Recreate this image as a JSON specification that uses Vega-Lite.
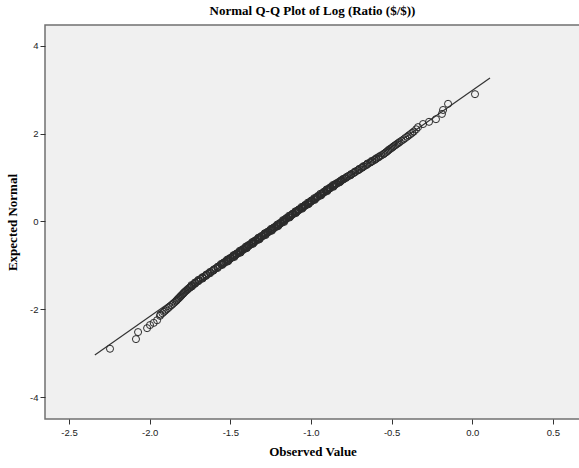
{
  "$schema": "https://vega.github.io/schema/vega-lite/v6.json",
  "autosize": {"type": "none"},
  "padding": {"left": 45, "top": 25, "right": 0, "bottom": 49},
  "width": 535,
  "height": 394,
  "background": "white",
  "title": {"text": "Normal Q-Q Plot of Log (Ratio ($/$))", "font": "Liberation Serif", "fontSize": 13, "fontWeight": "bold", "color": "#000", "anchor": "middle", "frame": "group", "offset": 7},
  "config": {"view": {"fill": "#f0f0f0", "stroke": "#707070", "strokeWidth": 1.5}},
  "datasets": {
    "pts": [
      {"o": -2.246, "e": -2.90}, {"o": -2.085, "e": -2.68}, {"o": -2.072, "e": -2.52}, {"o": -2.016, "e": -2.43}, {"o": -1.998, "e": -2.36}, {"o": -1.975, "e": -2.31}, {"o": -1.954, "e": -2.25}, {"o": -1.936, "e": -2.15},
      {"o": -1.921, "e": -2.09}, {"o": -1.903, "e": -2.03}, {"o": -1.884, "e": -1.97}, {"o": -1.866, "e": -1.91}, {"o": -1.848, "e": -1.85},
      {"o": -1.933, "e": -2.12}, {"o": -1.912, "e": -2.06}, {"o": -1.894, "e": -2.00}, {"o": -1.876, "e": -1.94}, {"o": -1.857, "e": -1.88}, {"o": -1.839, "e": -1.82}, {"o": -1.829, "e": -1.78}, {"o": -1.818, "e": -1.74}, {"o": -1.808, "e": -1.70}, {"o": -1.797, "e": -1.66}, {"o": -1.787, "e": -1.62}, {"o": -1.775, "e": -1.58}, {"o": -1.763, "e": -1.54}, {"o": -1.751, "e": -1.505},
      {"o": -1.833, "e": -1.80}, {"o": -1.823, "e": -1.76}, {"o": -1.812, "e": -1.72}, {"o": -1.802, "e": -1.68}, {"o": -1.791, "e": -1.64}, {"o": -1.781, "e": -1.60}, {"o": -1.768, "e": -1.56}, {"o": -1.756, "e": -1.52},
      {"o": -1.746, "e": -1.49}, {"o": -1.736, "e": -1.46}, {"o": -1.727, "e": -1.43}, {"o": -1.716, "e": -1.40}, {"o": -1.706, "e": -1.37}, {"o": -1.695, "e": -1.34}, {"o": -1.683, "e": -1.31}, {"o": -1.672, "e": -1.28}, {"o": -1.660, "e": -1.25}, {"o": -1.648, "e": -1.22}, {"o": -1.637, "e": -1.19}, {"o": -1.625, "e": -1.16}, {"o": -1.613, "e": -1.13}, {"o": -1.602, "e": -1.10}, {"o": -1.590, "e": -1.07}, {"o": -1.578, "e": -1.04}, {"o": -1.566, "e": -1.01},
      {"o": -1.738, "e": -1.48}, {"o": -1.741, "e": -1.45}, {"o": -1.719, "e": -1.42}, {"o": -1.719, "e": -1.39}, {"o": -1.698, "e": -1.36}, {"o": -1.698, "e": -1.33}, {"o": -1.672, "e": -1.30}, {"o": -1.673, "e": -1.27}, {"o": -1.651, "e": -1.24}, {"o": -1.649, "e": -1.21}, {"o": -1.626, "e": -1.18}, {"o": -1.626, "e": -1.15}, {"o": -1.605, "e": -1.12}, {"o": -1.601, "e": -1.09}, {"o": -1.579, "e": -1.06}, {"o": -1.578, "e": -1.03},
      {"o": -1.552, "e": -0.98}, {"o": -1.550, "e": -0.96}, {"o": -1.539, "e": -0.94}, {"o": -1.527, "e": -0.92}, {"o": -1.525, "e": -0.90}, {"o": -1.513, "e": -0.88}, {"o": -1.512, "e": -0.86}, {"o": -1.500, "e": -0.84}, {"o": -1.488, "e": -0.82}, {"o": -1.486, "e": -0.80},
      {"o": -1.475, "e": -0.78}, {"o": -1.473, "e": -0.76}, {"o": -1.461, "e": -0.74}, {"o": -1.449, "e": -0.72}, {"o": -1.448, "e": -0.70}, {"o": -1.436, "e": -0.68}, {"o": -1.434, "e": -0.66}, {"o": -1.422, "e": -0.64}, {"o": -1.411, "e": -0.62}, {"o": -1.409, "e": -0.60},
      {"o": -1.397, "e": -0.58}, {"o": -1.395, "e": -0.56}, {"o": -1.384, "e": -0.54}, {"o": -1.372, "e": -0.52}, {"o": -1.370, "e": -0.50}, {"o": -1.358, "e": -0.48}, {"o": -1.356, "e": -0.46}, {"o": -1.345, "e": -0.44}, {"o": -1.333, "e": -0.42}, {"o": -1.331, "e": -0.40},
      {"o": -1.319, "e": -0.38}, {"o": -1.318, "e": -0.36}, {"o": -1.306, "e": -0.34}, {"o": -1.294, "e": -0.32}, {"o": -1.292, "e": -0.30}, {"o": -1.281, "e": -0.28}, {"o": -1.279, "e": -0.26}, {"o": -1.267, "e": -0.24}, {"o": -1.255, "e": -0.22}, {"o": -1.254, "e": -0.20},
      {"o": -1.242, "e": -0.18}, {"o": -1.240, "e": -0.16}, {"o": -1.228, "e": -0.14}, {"o": -1.217, "e": -0.12}, {"o": -1.215, "e": -0.10}, {"o": -1.203, "e": -0.08}, {"o": -1.201, "e": -0.06}, {"o": -1.190, "e": -0.04}, {"o": -1.178, "e": -0.02}, {"o": -1.176, "e": 0.00},
      {"o": -1.550, "e": -0.99}, {"o": -1.558, "e": -0.97}, {"o": -1.539, "e": -0.95}, {"o": -1.539, "e": -0.93}, {"o": -1.515, "e": -0.91}, {"o": -1.511, "e": -0.89}, {"o": -1.520, "e": -0.87}, {"o": -1.500, "e": -0.85}, {"o": -1.500, "e": -0.83}, {"o": -1.476, "e": -0.81},
      {"o": -1.473, "e": -0.79}, {"o": -1.481, "e": -0.77}, {"o": -1.461, "e": -0.75}, {"o": -1.461, "e": -0.73}, {"o": -1.437, "e": -0.71}, {"o": -1.434, "e": -0.69}, {"o": -1.442, "e": -0.67}, {"o": -1.422, "e": -0.65}, {"o": -1.422, "e": -0.63}, {"o": -1.399, "e": -0.61},
      {"o": -1.395, "e": -0.59}, {"o": -1.403, "e": -0.57}, {"o": -1.383, "e": -0.55}, {"o": -1.384, "e": -0.53}, {"o": -1.360, "e": -0.51}, {"o": -1.356, "e": -0.49}, {"o": -1.364, "e": -0.47}, {"o": -1.345, "e": -0.45}, {"o": -1.345, "e": -0.43}, {"o": -1.321, "e": -0.41},
      {"o": -1.317, "e": -0.39}, {"o": -1.326, "e": -0.37}, {"o": -1.306, "e": -0.35}, {"o": -1.306, "e": -0.33}, {"o": -1.282, "e": -0.31}, {"o": -1.279, "e": -0.29}, {"o": -1.287, "e": -0.27}, {"o": -1.267, "e": -0.25}, {"o": -1.267, "e": -0.23}, {"o": -1.243, "e": -0.21},
      {"o": -1.240, "e": -0.19}, {"o": -1.248, "e": -0.17}, {"o": -1.228, "e": -0.15}, {"o": -1.228, "e": -0.13}, {"o": -1.205, "e": -0.11}, {"o": -1.201, "e": -0.09}, {"o": -1.209, "e": -0.07}, {"o": -1.189, "e": -0.05}, {"o": -1.190, "e": -0.03}, {"o": -1.166, "e": -0.01},
      {"o": -1.166, "e": 0.02}, {"o": -1.164, "e": 0.04}, {"o": -1.153, "e": 0.06}, {"o": -1.151, "e": 0.08}, {"o": -1.139, "e": 0.10}, {"o": -1.127, "e": 0.12}, {"o": -1.126, "e": 0.14}, {"o": -1.114, "e": 0.16}, {"o": -1.112, "e": 0.18}, {"o": -1.100, "e": 0.20},
      {"o": -1.089, "e": 0.22}, {"o": -1.087, "e": 0.24}, {"o": -1.075, "e": 0.26}, {"o": -1.073, "e": 0.28}, {"o": -1.062, "e": 0.30}, {"o": -1.050, "e": 0.32}, {"o": -1.048, "e": 0.34}, {"o": -1.036, "e": 0.36}, {"o": -1.035, "e": 0.38}, {"o": -1.023, "e": 0.40},
      {"o": -1.011, "e": 0.42}, {"o": -1.009, "e": 0.44}, {"o": -0.998, "e": 0.46}, {"o": -0.996, "e": 0.48}, {"o": -0.984, "e": 0.50}, {"o": -0.972, "e": 0.52}, {"o": -0.970, "e": 0.54}, {"o": -0.959, "e": 0.56}, {"o": -0.957, "e": 0.58}, {"o": -0.945, "e": 0.60},
      {"o": -0.933, "e": 0.62}, {"o": -0.932, "e": 0.64}, {"o": -0.920, "e": 0.66}, {"o": -0.918, "e": 0.68}, {"o": -0.906, "e": 0.70}, {"o": -0.895, "e": 0.72}, {"o": -0.893, "e": 0.74}, {"o": -0.881, "e": 0.76}, {"o": -0.879, "e": 0.78}, {"o": -0.868, "e": 0.80},
      {"o": -0.856, "e": 0.82}, {"o": -0.854, "e": 0.84}, {"o": -0.842, "e": 0.86}, {"o": -0.833, "e": 0.88}, {"o": -0.827, "e": 0.90}, {"o": -0.815, "e": 0.92}, {"o": -0.809, "e": 0.94}, {"o": -0.798, "e": 0.96}, {"o": -0.792, "e": 0.98},
      {"o": -1.168, "e": 0.01}, {"o": -1.174, "e": 0.03}, {"o": -1.157, "e": 0.05}, {"o": -1.153, "e": 0.07}, {"o": -1.133, "e": 0.09}, {"o": -1.129, "e": 0.11}, {"o": -1.136, "e": 0.13}, {"o": -1.118, "e": 0.15}, {"o": -1.114, "e": 0.17}, {"o": -1.094, "e": 0.19},
      {"o": -1.091, "e": 0.21}, {"o": -1.097, "e": 0.23}, {"o": -1.079, "e": 0.25}, {"o": -1.075, "e": 0.27}, {"o": -1.055, "e": 0.29}, {"o": -1.052, "e": 0.31}, {"o": -1.058, "e": 0.33}, {"o": -1.040, "e": 0.35}, {"o": -1.036, "e": 0.37}, {"o": -1.017, "e": 0.39},
      {"o": -1.013, "e": 0.41}, {"o": -1.019, "e": 0.43}, {"o": -1.001, "e": 0.45}, {"o": -0.998, "e": 0.47}, {"o": -0.978, "e": 0.49}, {"o": -0.974, "e": 0.51}, {"o": -0.980, "e": 0.53}, {"o": -0.963, "e": 0.55}, {"o": -0.959, "e": 0.57}, {"o": -0.939, "e": 0.59},
      {"o": -0.935, "e": 0.61}, {"o": -0.942, "e": 0.63}, {"o": -0.924, "e": 0.65}, {"o": -0.920, "e": 0.67}, {"o": -0.900, "e": 0.69}, {"o": -0.897, "e": 0.71}, {"o": -0.903, "e": 0.73}, {"o": -0.885, "e": 0.75}, {"o": -0.881, "e": 0.77}, {"o": -0.861, "e": 0.79},
      {"o": -0.858, "e": 0.81}, {"o": -0.864, "e": 0.83}, {"o": -0.846, "e": 0.85}, {"o": -0.842, "e": 0.87}, {"o": -0.823, "e": 0.89}, {"o": -0.819, "e": 0.91}, {"o": -0.815, "e": 0.93}, {"o": -0.807, "e": 0.95}, {"o": -0.800, "e": 0.97}, {"o": -0.784, "e": 0.99},
      {"o": -0.778, "e": 1.01}, {"o": -0.766, "e": 1.04}, {"o": -0.752, "e": 1.07}, {"o": -0.738, "e": 1.10}, {"o": -0.725, "e": 1.13}, {"o": -0.712, "e": 1.16}, {"o": -0.698, "e": 1.19}, {"o": -0.686, "e": 1.22}, {"o": -0.673, "e": 1.25}, {"o": -0.660, "e": 1.28}, {"o": -0.648, "e": 1.31}, {"o": -0.634, "e": 1.34}, {"o": -0.620, "e": 1.37}, {"o": -0.607, "e": 1.40}, {"o": -0.594, "e": 1.43}, {"o": -0.583, "e": 1.46}, {"o": -0.572, "e": 1.49},
      {"o": -0.776, "e": 1.02}, {"o": -0.755, "e": 1.05}, {"o": -0.751, "e": 1.08}, {"o": -0.733, "e": 1.11}, {"o": -0.726, "e": 1.14}, {"o": -0.706, "e": 1.17}, {"o": -0.700, "e": 1.20}, {"o": -0.681, "e": 1.23}, {"o": -0.675, "e": 1.26}, {"o": -0.655, "e": 1.29}, {"o": -0.650, "e": 1.32}, {"o": -0.630, "e": 1.35}, {"o": -0.623, "e": 1.38}, {"o": -0.603, "e": 1.41}, {"o": -0.595, "e": 1.44}, {"o": -0.578, "e": 1.47},
      {"o": -0.551, "e": 1.53}, {"o": -0.537, "e": 1.57}, {"o": -0.523, "e": 1.61}, {"o": -0.510, "e": 1.65}, {"o": -0.494, "e": 1.69}, {"o": -0.480, "e": 1.73}, {"o": -0.465, "e": 1.77}, {"o": -0.450, "e": 1.81},
      {"o": -0.562, "e": 1.51}, {"o": -0.545, "e": 1.55}, {"o": -0.530, "e": 1.59}, {"o": -0.518, "e": 1.63}, {"o": -0.502, "e": 1.67}, {"o": -0.488, "e": 1.71}, {"o": -0.473, "e": 1.75}, {"o": -0.457, "e": 1.79}, {"o": -0.438, "e": 1.84}, {"o": -0.416, "e": 1.90}, {"o": -0.394, "e": 1.96}, {"o": -0.372, "e": 2.02},
      {"o": -0.426, "e": 1.87}, {"o": -0.404, "e": 1.93}, {"o": -0.383, "e": 1.99}, {"o": -0.362, "e": 2.05}, {"o": -0.348, "e": 2.10},
      {"o": -0.336, "e": 2.15}, {"o": -0.305, "e": 2.22}, {"o": -0.268, "e": 2.27}, {"o": -0.225, "e": 2.33}, {"o": -0.188, "e": 2.45}, {"o": -0.181, "e": 2.54}, {"o": -0.150, "e": 2.68}, {"o": 0.017, "e": 2.90}
    ],
    "ref": [{"o": -2.34, "e": -3.04}, {"o": 0.11, "e": 3.27}]
  },
  "layer": [
    {
      "data": {"name": "ref"},
      "mark": {"type": "line", "color": "#333", "strokeWidth": 1.2},
      "encoding": {
        "x": {"field": "o", "type": "quantitative"},
        "y": {"field": "e", "type": "quantitative"}
      }
    },
    {
      "data": {"name": "pts"},
      "mark": {"type": "point", "shape": "circle", "filled": false, "stroke": "#2a2a2a", "strokeWidth": 1, "size": 50, "opacity": 1},
      "encoding": {
        "x": {"field": "o", "type": "quantitative",
          "scale": {"domain": [-2.649, 0.668], "nice": false, "zero": false},
          "axis": {"title": "Observed Value", "values": [-2.5, -2.0, -1.5, -1.0, -0.5, 0.0, 0.5],
            "labelExpr": "replace(format(datum.value, '.1f'), '\u2212', '-')",
            "grid": false, "domain": false, "tickColor": "#333", "tickSize": 5, "labelPadding": 3,
            "labelFont": "Liberation Sans", "labelFontSize": 9.5, "labelColor": "#222",
            "titleFont": "Liberation Serif", "titleFontSize": 13, "titleFontWeight": "bold", "titleColor": "#000", "titlePadding": 9}},
        "y": {"field": "e", "type": "quantitative",
          "scale": {"domain": [-4.5, 4.476], "nice": false, "zero": false},
          "axis": {"title": "Expected Normal", "values": [-4, -2, 0, 2, 4],
            "labelExpr": "replace(format(datum.value, 'd'), '\u2212', '-')",
            "grid": false, "domain": false, "tickColor": "#333", "tickSize": 5, "labelPadding": 2,
            "labelFont": "Liberation Sans", "labelFontSize": 9.5, "labelColor": "#222",
            "titleFont": "Liberation Serif", "titleFontSize": 13, "titleFontWeight": "bold", "titleColor": "#000", "titlePadding": 10}}
      }
    }
  ]
}
